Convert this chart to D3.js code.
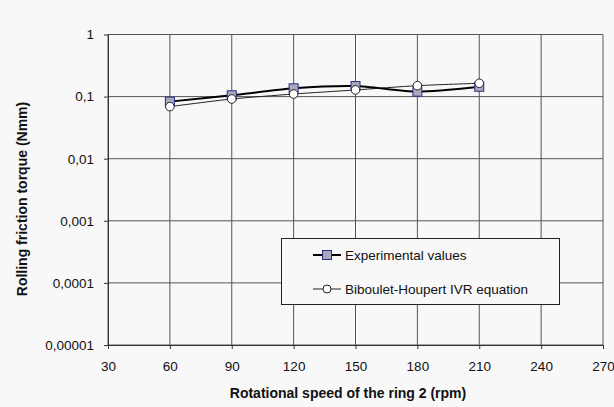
<!DOCTYPE html>
<html>
<head>
<meta charset="utf-8">
<script src="https://cdn.jsdelivr.net/npm/d3@7"></script>
<style>
  body { margin: 0; background: #f8f8f8; }
  text { font-family: "Liberation Sans", Arial, sans-serif; }
</style>
</head>
<body>
<div id="chart"></div>
<script>
// chart data
const speeds = [60, 90, 120, 150, 180, 210];
const experimental = [0.083, 0.105, 0.136, 0.148, 0.120, 0.144];
const biboulet = [0.069, 0.0915, 0.110, 0.128, 0.150, 0.164];
const xTicks = [30, 60, 90, 120, 150, 180, 210, 240, 270];
const yTicks = [1, 0.1, 0.01, 0.001, 0.0001, 0.00001];
const yTickLabels = ["1", "0,1", "0,01", "0,001", "0,0001", "0,00001"];

const W = 614, H = 407;
const m = { left: 108, right: 11, top: 34.5, bottom: 62 };

const svg = d3.select("#chart").append("svg")
  .attr("width", W).attr("height", H);

const x = d3.scaleLinear().domain([30, 270]).range([m.left, W - m.right]);
const y = d3.scaleLog().domain([0.00001, 1]).range([H - m.bottom, m.top]);

const grid = svg.append("g");
// vertical grid
grid.selectAll("line.v").data(xTicks).enter().append("line")
  .attr("x1", d => x(d)).attr("x2", d => x(d))
  .attr("y1", y(1)).attr("y2", y(0.00001))
  .attr("stroke", "#555").attr("stroke-width", 1);
// horizontal grid
grid.selectAll("line.h").data(yTicks).enter().append("line")
  .attr("x1", x(30)).attr("x2", x(270))
  .attr("y1", d => y(d)).attr("y2", d => y(d))
  .attr("stroke", "#555").attr("stroke-width", 1);

// axes
const xAxis = svg.append("g")
  .attr("transform", "translate(0," + y(0.00001) + ")")
  .call(d3.axisBottom(x).tickValues(xTicks).tickSize(4).tickPadding(12).tickSizeOuter(0));
const yAxis = svg.append("g")
  .attr("transform", "translate(" + x(30) + ",0)")
  .call(d3.axisLeft(y).tickValues(yTicks).tickFormat((d, i) => yTickLabels[i]).tickSize(4).tickPadding(10).tickSizeOuter(0));

[xAxis, yAxis].forEach(a => {
  a.select(".domain").attr("stroke", "#333");
  a.selectAll(".tick line").attr("stroke", "#333");
  a.selectAll("text").attr("font-size", 13.5).attr("fill", "#111")
    .style("font-family", "Liberation Sans, Arial, sans-serif");
});

// axis titles
svg.append("text")
  .attr("x", 348).attr("y", 398)
  .attr("text-anchor", "middle")
  .attr("font-size", 14).attr("font-weight", "bold").attr("fill", "#111")
  .text("Rotational speed of the ring 2 (rpm)");
svg.append("text")
  .attr("transform", "translate(27,199) rotate(-90)")
  .attr("text-anchor", "middle")
  .attr("font-size", 14).attr("font-weight", "bold").attr("fill", "#111")
  .text("Rolling friction torque (Nmm)");

const line = d3.line().curve(d3.curveCardinal.tension(0.3))
  .x((d, i) => x(speeds[i])).y(d => y(d));

// Biboulet-Houpert series
svg.append("path").datum(biboulet)
  .attr("d", line).attr("fill", "none")
  .attr("stroke", "#222").attr("stroke-width", 1);
// experimental series
svg.append("path").datum(experimental)
  .attr("d", line).attr("fill", "none")
  .attr("stroke", "#000").attr("stroke-width", 2);

svg.selectAll("rect.exp").data(experimental).enter().append("rect")
  .attr("x", (d, i) => x(speeds[i]) - 4.5).attr("y", d => y(d) - 4.5)
  .attr("width", 9).attr("height", 9)
  .attr("fill", "#a9a9bc").attr("stroke", "#2b2b8a").attr("stroke-width", 1);

svg.selectAll("circle.bib").data(biboulet).enter().append("circle")
  .attr("cx", (d, i) => x(speeds[i])).attr("cy", d => y(d))
  .attr("r", 4.3)
  .attr("fill", "#fff").attr("stroke", "#222").attr("stroke-width", 1);

// legend
const lg = svg.append("g");
lg.append("rect")
  .attr("x", 281.5).attr("y", 238.5).attr("width", 278).attr("height", 66)
  .attr("fill", "#f8f8f8").attr("stroke", "#222").attr("stroke-width", 1);
lg.append("line").attr("x1", 313).attr("x2", 341).attr("y1", 255).attr("y2", 255)
  .attr("stroke", "#000").attr("stroke-width", 2);
lg.append("rect").attr("x", 322.5).attr("y", 250.5).attr("width", 9).attr("height", 9)
  .attr("fill", "#a9a9bc").attr("stroke", "#2b2b8a");
lg.append("text").attr("x", 345).attr("y", 260).attr("font-size", 13.5).attr("fill", "#111")
  .text("Experimental values");
lg.append("line").attr("x1", 313).attr("x2", 341).attr("y1", 289).attr("y2", 289)
  .attr("stroke", "#222").attr("stroke-width", 1);
lg.append("circle").attr("cx", 327).attr("cy", 289).attr("r", 4)
  .attr("fill", "#fff").attr("stroke", "#222");
lg.append("text").attr("x", 345).attr("y", 294).attr("font-size", 13.5).attr("fill", "#111")
  .text("Biboulet-Houpert IVR equation");
</script>
</body>
</html>
